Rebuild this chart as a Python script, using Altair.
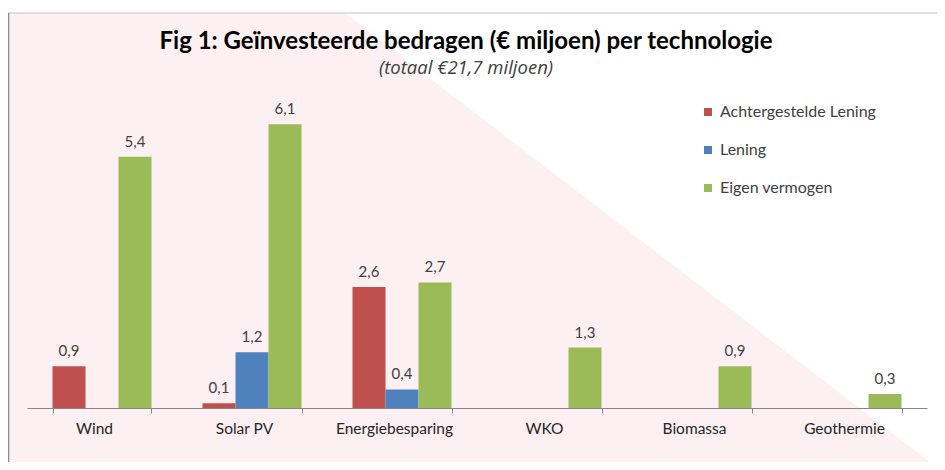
import altair as alt
import pandas as pd

# ---- data ----
categories = ["Wind", "Solar PV", "Energiebesparing", "WKO", "Biomassa", "Geothermie"]
series = ["Achtergestelde Lening", "Lening", "Eigen vermogen"]
achtergestelde_lening = [0.9, 0.1, 2.6, None, None, None]
lening = [None, 1.2, 0.4, None, None, None]
eigen_vermogen = [5.4, 6.1, 2.7, 1.3, 0.9, 0.3]

title_text = "Fig 1: Geïnvesteerde bedragen (€ miljoen) per technologie"
subtitle_text = "(totaal €21,7 miljoen)"

colors = ["#c0504d", "#4f81bd", "#9bbb59"]

rows = []
for s, vals in zip(series, [achtergestelde_lening, lening, eigen_vermogen]):
    for c, v in zip(categories, vals):
        if v is not None:
            rows.append({"cat": c, "serie": s, "waarde": v,
                         "label": f"{v:.1f}".replace(".", ",")})
df = pd.DataFrame(rows)

FONT = "Lato"
W, H = 900, 307

# ---- background decoration (pink diagonal, frame, titles) ----
bg_df = pd.DataFrame({"px": [-19, 318, 913], "py": [395, 395, -62]})
one = pd.DataFrame({"k": [0]})
bx = alt.Scale(domain=[0, W], nice=False, zero=False)
by = alt.Scale(domain=[0, H], nice=False, zero=False)
bg_area = alt.Chart(bg_df).mark_area(color="#fcf0f2", clip=False).encode(
    x=alt.X("px:Q", scale=bx, axis=None),
    y=alt.Y("py:Q", scale=by, axis=None),
    y2=alt.datum(-70),
)
top_rule = alt.Chart(one).mark_rule(color="#c4c4c4", strokeWidth=1.2, clip=False).encode(
    x=alt.datum(-19), x2=alt.datum(940), y=alt.datum(395)
)
left_rule = alt.Chart(one).mark_rule(color="#8c8c8c", strokeWidth=1.6, clip=False).encode(
    x=alt.datum(-18.5), y=alt.datum(395), y2=alt.datum(-70)
)
title_mark = alt.Chart(one).mark_text(
    font=FONT, fontSize=24, fontWeight="bold", color="#000000",
    align="center", baseline="alphabetic", clip=False
).encode(x=alt.datum(439), y=alt.datum(359), text=alt.value(title_text))
subtitle_mark = alt.Chart(one).mark_text(
    font="Open Sans", fontSize=18.5, fontStyle="italic", fontWeight="normal",
    color="#404040", align="center", baseline="alphabetic", clip=False
).encode(x=alt.datum(439), y=alt.datum(334), text=alt.value(subtitle_text))
bg_layer = alt.layer(bg_area, top_rule, left_rule, title_mark, subtitle_mark)

# ---- bars ----
x = alt.X("cat:N", sort=categories,
          scale=alt.Scale(domain=categories, paddingInner=0.34, paddingOuter=0.17),
          axis=alt.Axis(title=None, orient="bottom", labelAngle=0, labelFont=FONT,
                        labelFontSize=15.5, labelColor="#262626", domainColor="#868686",
                        tickColor="#868686", tickSize=5, tickBand="extent",
                        labelPadding=8, labelOffset=-8, grid=False, zindex=1))
xo = alt.XOffset("serie:N", sort=series,
                 scale=alt.Scale(domain=series, paddingInner=0, paddingOuter=0))
y = alt.Y("waarde:Q", scale=alt.Scale(domain=[0, 6.6], nice=False), axis=None)

bars = alt.Chart(df).mark_bar().encode(
    x=x, xOffset=xo, y=y,
    color=alt.Color("serie:N", sort=series,
                    scale=alt.Scale(domain=series, range=colors),
                    legend=alt.Legend(title=None, orient="none", legendX=673, legendY=3,
                                      symbolType="square", symbolSize=64,
                                      symbolStrokeWidth=0, labelFont=FONT,
                                      labelFontSize=16, labelColor="#404040",
                                      rowPadding=22, labelOffset=4, zindex=1)),
)
text = alt.Chart(df).mark_text(baseline="bottom", dy=-7, font=FONT, fontSize=15,
                               color="#404040").encode(
    x=x, xOffset=xo, y=y, text="label:N"
)
data_layer = alt.layer(bars, text)

chart = alt.layer(bg_layer, data_layer).resolve_scale(
    x="independent", y="independent"
).properties(
    width=W, height=H,
    autosize=alt.AutoSizeParams(type="none"),
    padding={"left": 19, "top": 93, "right": 10, "bottom": 54},
    background="white",
).configure_view(stroke=None)

chart.save("out.html", embed_options={"renderer": "svg", "actions": False})
